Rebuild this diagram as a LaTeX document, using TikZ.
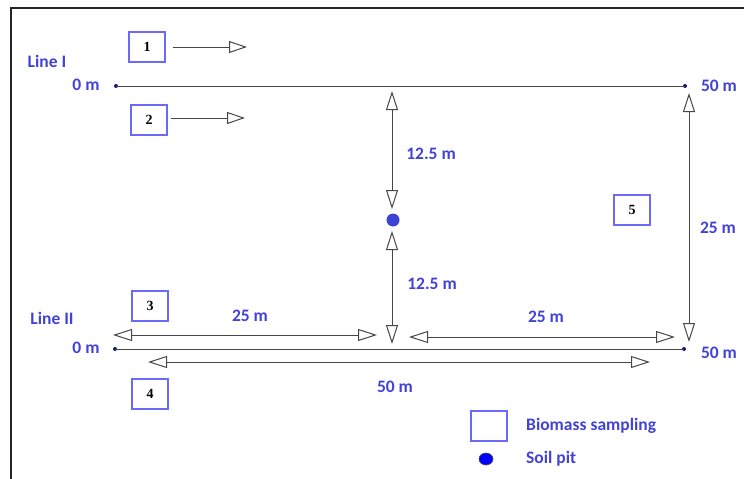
\documentclass[tikz,border=0pt]{standalone}
\usepackage{fontspec}
\setmainfont{Carlito}
\newfontfamily\numfont{Liberation Serif}
\usetikzlibrary{arrows.meta,shapes.geometric}
\definecolor{txtblue}{RGB}{66,66,215}
\definecolor{boxblue}{RGB}{105,105,250}
\definecolor{pitblue}{RGB}{60,68,215}
\definecolor{lgray}{RGB}{70,70,70}
\definecolor{endnavy}{RGB}{20,20,120}
\tikzset{
  lbl/.style={text=txtblue, font=\fontsize{17.5}{19}\selectfont\bfseries, inner sep=0pt},
  sbox/.style={draw=boxblue, line width=1.3pt, minimum width=36pt, minimum height=30pt, inner sep=0pt, font=\numfont\fontsize{14}{15}\selectfont\bfseries},
  tline/.style={draw=lgray, line width=1pt},
  dim/.style={draw=lgray, line width=1pt, {Triangle[open,length=19pt,width=12pt,line width=1pt]}-{Triangle[open,length=19pt,width=12pt,line width=1pt]}},
  fwd/.style={draw=lgray, line width=1pt, -{Triangle[open,length=18pt,width=12pt,line width=1pt]}},
  enddot/.style={circle, fill=endnavy, inner sep=0pt, minimum size=4pt},
}
\begin{document}
\begin{tikzpicture}[x=1pt,y=-1pt]
\useasboundingbox (0,0) rectangle (744,479);
% frame
\draw[line width=1.4pt, black!85] (11,479) -- (11,8) -- (744,8);
% Line I
\node[enddot] (L1a) at (116,86) {};
\node[enddot] (L1b) at (685,86) {};
\draw[tline] (L1a.center) -- (L1b.center);
\node[lbl] (lineI) at (47,61) {Line I};
\node[lbl] (zeroI) at (86,85) {0 m};
\node[lbl] (fiftyI) at (719,86) {50 m};
% Line II
\node[enddot] (L2a) at (115,349) {};
\node[enddot] (L2b) at (684,349) {};
\draw[tline] (L2a.center) -- (L2b.center);
\node[lbl] (lineII) at (52,318) {Line II};
\node[lbl] (zeroII) at (86,348) {0 m};
\node[lbl] (fiftyII) at (719,353) {50 m};
% sampling boxes
\node[sbox] (b1) at (147,47) {1};
\node[sbox] (b2) at (149,120) {2};
\node[sbox] (b3) at (150,306) {3};
\node[sbox] (b4) at (150,394) {4};
\node[sbox] (b5) at (632,210) {5};
% direction arrows
\coordinate (a1e) at (247,47);
\coordinate (a2e) at (245,118);
\draw[fwd] ([xshift=7pt]b1.east |- a1e) -- (a1e);
\draw[fwd] ([xshift=3pt]b2.east |- a2e) -- (a2e);
% soil pit
\node[circle, fill=pitblue, inner sep=0pt, minimum size=13pt] (pit) at (393,220) {};
% vertical dimensions
\coordinate (v1t) at (392,91);
\coordinate (v1b) at (392,209);
\coordinate (v2t) at (392,231);
\coordinate (v2b) at (392,344);
\draw[dim] (v1t) -- (v1b);
\draw[dim] (v2t) -- (v2b);
\node[lbl] (d1) at (431,154) {12.5 m};
\node[lbl] (d2) at (432,284) {12.5 m};
\coordinate (v3t) at (689,93);
\coordinate (v3b) at (689,342);
\draw[dim] (v3t) -- (v3b);
\node[lbl] (d3) at (718,228) {25 m};
% horizontal dimensions
\coordinate (h1l) at (113,335);
\coordinate (h1r) at (377,335);
\coordinate (h2l) at (409,337);
\coordinate (h2r) at (675,337);
\coordinate (h3l) at (148,362);
\coordinate (h3r) at (650,362);
\draw[dim] (h1l) -- (h1r);
\draw[dim] (h2l) -- (h2r);
\draw[dim] (h3l) -- (h3r);
\node[lbl] (d4) at (250,316) {25 m};
\node[lbl] (d5) at (546,317) {25 m};
\node[lbl] (d6) at (395,387) {50 m};
% legend
\node[sbox] (legbox) at (489,426) {};
\node[lbl, anchor=west] (legt1) at (526,426) {Biomass sampling};
\node[ellipse, draw=black!70, line width=0.6pt, fill=blue, inner sep=0pt, minimum width=14pt, minimum height=12pt] (legpit) at (486,459) {};
\node[lbl, anchor=west] (legt2) at (526,459) {Soil pit};
\end{tikzpicture}
\end{document}
